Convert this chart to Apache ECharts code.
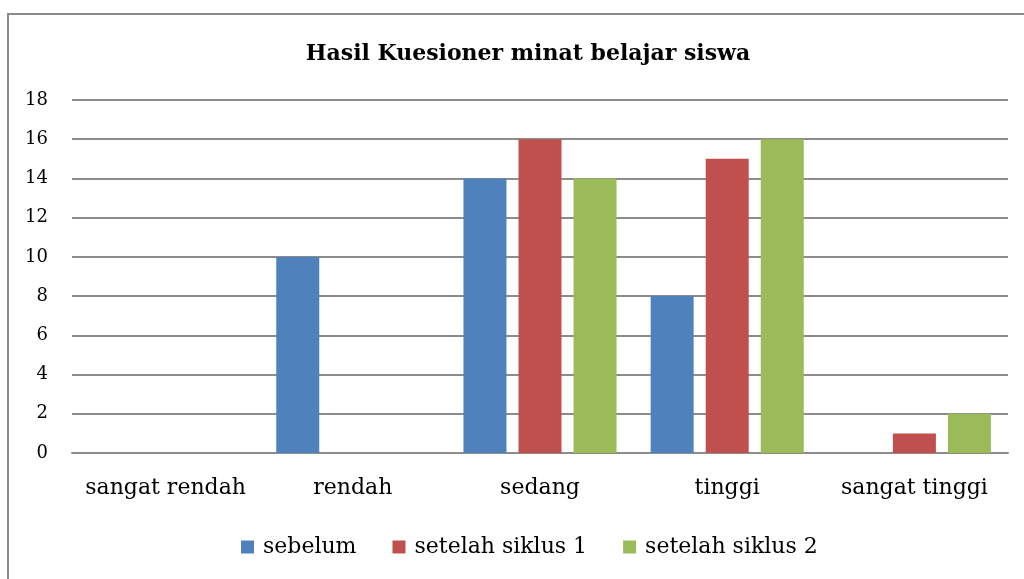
<!DOCTYPE html>
<html>
<head>
<meta charset="utf-8">
<script src="https://cdn.jsdelivr.net/npm/echarts@6/dist/echarts.min.js"></script>
<style>
    html, body { margin: 0; padding: 0; background: #fff; }
    #wrap { position: relative; width: 1024px; height: 579px; overflow: hidden; }
    #frame {
        position: absolute; left: 7px; top: 13px; width: 1100px; height: 700px;
        border-left: 2px solid #898989; border-top: 2px solid #898989;
    }
    #chart { position: absolute; left: 0; top: 0; width: 1024px; height: 579px; }
</style>
</head>
<body>
<div id="wrap">
    <div id="frame"></div>
    <div id="chart"></div>
</div>
<script>
    var categories = ['sangat rendah', 'rendah', 'sedang', 'tinggi', 'sangat tinggi']
    var seriesNames = ['sebelum', 'setelah siklus 1', 'setelah siklus 2']
    var sebelum = [0, 10, 14, 8, 0]
    var siklus1 = [0, 0, 16, 15, 1]
    var siklus2 = [0, 0, 14, 16, 2]
    var colors = ['#4f81bd', '#c0504d', '#9bbb59']
    var font = 'DejaVu Serif'

    var chart = echarts.init(document.getElementById('chart'))

    function bar(name, data, color) {
        return {
            name: name,
            type: 'bar',
            barWidth: 43,
            barGap: '28%',
            itemStyle: { color: color },
            data: data
        }
    }

    chart.setOption({
        animation: false,
        color: colors,
        title: {
            text: 'Hasil Kuesioner minat belajar siswa',
            left: 523,
            textAlign: 'center',
            top: 38,
            textStyle: { fontFamily: font, fontSize: 22, fontWeight: 'bold', color: '#000' }
        },
        legend: {
            data: seriesNames,
            left: 236,
            top: 531,
            itemWidth: 13,
            itemHeight: 13,
            itemGap: 36,
            icon: 'rect',
            textStyle: { fontFamily: font, fontSize: 22, color: '#000', padding: [0, 0, 0, 4] }
        },
        grid: { left: 72, right: 16, top: 100, bottom: 126 },
        xAxis: {
            type: 'category',
            data: categories,
            axisLine: { lineStyle: { color: '#8c8c8c', width: 2 } },
            axisTick: { show: false },
            axisLabel: { fontFamily: font, fontSize: 22, color: '#000', margin: 24, interval: 0 }
        },
        yAxis: {
            type: 'value',
            min: 0,
            max: 18,
            interval: 2,
            axisLine: { show: false },
            axisTick: { show: false },
            splitLine: { lineStyle: { color: '#8c8c8c', width: 2 } },
            axisLabel: { fontFamily: font, fontSize: 18, color: '#000', margin: 24 }
        },
        series: [
            bar(seriesNames[0], sebelum, colors[0]),
            bar(seriesNames[1], siklus1, colors[1]),
            bar(seriesNames[2], siklus2, colors[2])
        ]
    })
</script>
</body>
</html>
